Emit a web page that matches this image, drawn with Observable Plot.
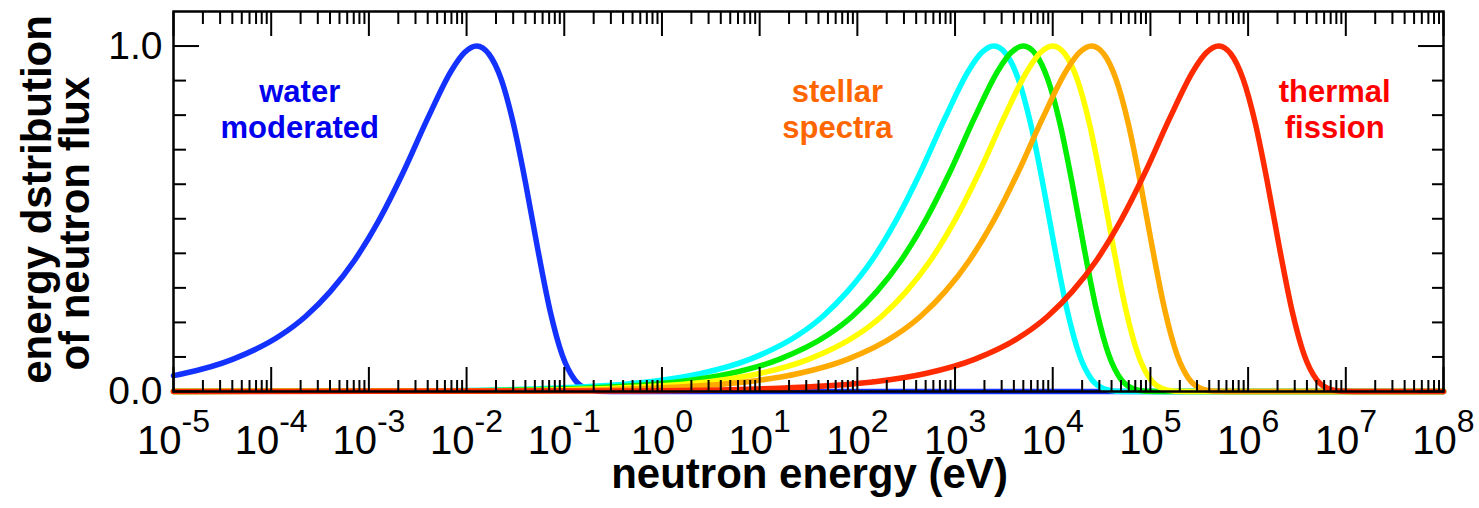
<!DOCTYPE html>
<html>
<head>
<meta charset="utf-8">
<script src="https://cdn.jsdelivr.net/npm/d3@7"></script>
<script src="https://cdn.jsdelivr.net/npm/@observablehq/plot@0.6"></script>
<style>
  html, body { margin: 0; padding: 0; background: #fff; }
  #chart svg { display: block; }
</style>
</head>
<body>
<div id="chart"></div>
<script>
// ---------- data ----------
// water moderated (thermal) spectrum
const waterE = [1e-5, 1.27e-5, 4.02e-5, 1.27e-4, 2.26e-4, 4.02e-4, 7.14e-4, 1.27e-3, 2.26e-3, 4.02e-3, 7.14e-3, 9.52e-3, 0.0127, 0.0169, 0.0226, 0.0301, 0.0402, 0.0536, 0.0714, 0.0952, 0.127, 0.169, 0.226, 0.402, 1e8];
const waterFlux = [0.046, 0.052, 0.093, 0.164, 0.218, 0.289, 0.380, 0.496, 0.636, 0.792, 0.933, 0.981, 1.000, 0.977, 0.904, 0.776, 0.603, 0.411, 0.235, 0.106, 0.035, 0.008, 0.001, 0, 0];

// stellar spectra
const stellar1E = [1e-5, 2.5e-3, 0.025, 0.079, 0.25, 0.79, 2.5, 7.9, 25, 44.5, 79, 141, 250, 445, 791, 1406, 1875, 2500, 3334, 4446, 5928, 7906, 10540, 14060, 18750, 25000, 33340, 44460, 79060, 1e8];
const stellar1Flux = [0.0001, 0.0017, 0.0052, 0.0093, 0.0165, 0.029, 0.052, 0.093, 0.164, 0.218, 0.289, 0.380, 0.496, 0.636, 0.792, 0.933, 0.981, 1.000, 0.977, 0.904, 0.776, 0.603, 0.411, 0.235, 0.106, 0.035, 0.008, 0.001, 0, 0];

const stellar2E = [1e-5, 5e-3, 0.05, 0.158, 0.5, 1.58, 5, 15.8, 50, 88.9, 158, 281, 500, 889, 1581, 2812, 3749, 5000, 6668, 8891, 11857, 15811, 21085, 28117, 37495, 50000, 66680, 88910, 158110, 1e8];
const stellar2Flux = [0.0001, 0.0017, 0.0052, 0.0093, 0.0165, 0.029, 0.052, 0.093, 0.164, 0.218, 0.289, 0.380, 0.496, 0.636, 0.792, 0.933, 0.981, 1.000, 0.977, 0.904, 0.776, 0.603, 0.411, 0.235, 0.106, 0.035, 0.008, 0.001, 0, 0];

const stellar3E = [1e-5, 0.01, 0.1, 0.316, 1, 3.16, 10, 31.6, 100, 178, 316, 562, 1000, 1778, 3162, 5623, 7499, 10000, 13335, 17783, 23714, 31623, 42170, 56234, 74989, 100000, 133350, 177830, 316230, 1e8];
const stellar3Flux = [0.0001, 0.0017, 0.0052, 0.0093, 0.0165, 0.029, 0.052, 0.093, 0.164, 0.218, 0.289, 0.380, 0.496, 0.636, 0.792, 0.933, 0.981, 1.000, 0.977, 0.904, 0.776, 0.603, 0.411, 0.235, 0.106, 0.035, 0.008, 0.001, 0, 0];

const stellar4E = [1e-5, 0.025, 0.25, 0.79, 2.5, 7.9, 25, 79, 250, 445, 791, 1406, 2500, 4446, 7906, 14058, 18747, 25000, 33338, 44457, 59285, 79057, 105425, 140585, 187473, 250000, 333375, 444575, 790570, 1e8];
const stellar4Flux = [0, 0.0017, 0.0052, 0.0093, 0.0165, 0.029, 0.052, 0.093, 0.164, 0.218, 0.289, 0.380, 0.496, 0.636, 0.792, 0.933, 0.981, 1.000, 0.977, 0.904, 0.776, 0.603, 0.411, 0.235, 0.106, 0.035, 0.008, 0.001, 0, 0];

// thermal fission spectrum
const fissionE = [1e-5, 0.5, 5, 15.8, 50, 158, 500, 1581, 5000, 8891, 15811, 28117, 50000, 88914, 158114, 281171, 374947, 500000, 666750, 889140, 1185700, 1581140, 2108500, 2811700, 3749450, 5000000, 6667500, 8891400, 15811000, 1e8];
const fissionFlux = [0, 0.0017, 0.0052, 0.0093, 0.0165, 0.029, 0.052, 0.093, 0.164, 0.218, 0.289, 0.380, 0.496, 0.636, 0.792, 0.933, 0.981, 1.000, 0.977, 0.904, 0.776, 0.603, 0.411, 0.235, 0.106, 0.035, 0.008, 0.001, 0, 0];

// axis ticks and labels
const xMajorTicks = [1e-5, 1e-4, 1e-3, 1e-2, 1e-1, 1e0, 1e1, 1e2, 1e3, 1e4, 1e5, 1e6, 1e7, 1e8];
const xTickExponents = ["-5", "-4", "-3", "-2", "-1", "0", "1", "2", "3", "4", "5", "6", "7", "8"];
const xMinorMultipliers = [2, 3, 4, 5, 6, 7, 8, 9];
const yMajorTicks = [0, 1];
const yTickLabels = ["0.0", "1.0"];
const yMinorTicks = [0.1, 0.2, 0.3, 0.4, 0.5, 0.6, 0.7, 0.8, 0.9];

// annotations (data coordinates)
const annoText = ["water\nmoderated", "stellar\nspectra", "thermal\nfission"];
const annoE = [1.96e-4, 62.5, 7.7e6];
const annoY = [0.82, 0.82, 0.82];

const xLabel = "neutron energy (eV)";
const yLabelLines = ["energy dstribution", "of neutron flux"];
const yLabelCenters = [0.556, 0.486];

// ---------- build tables ----------
const toRows = (E, F) => E.map((e, i) => ({E: e, flux: F[i]}));
const series = [
  {rows: toRows(waterE, waterFlux), color: "#1432ff"},
  {rows: toRows(stellar1E, stellar1Flux), color: "#00ffff"},
  {rows: toRows(stellar2E, stellar2Flux), color: "#00ee00"},
  {rows: toRows(stellar3E, stellar3Flux), color: "#ffff00"},
  {rows: toRows(stellar4E, stellar4Flux), color: "#ffaa00"},
  {rows: toRows(fissionE, fissionFlux), color: "#ff2a00"}
];
const xMinorTicks = xMajorTicks.slice(0, -1).flatMap(d => xMinorMultipliers.map(m => m * d));
const annotations = annoText.map((t, i) => ({text: t, E: annoE[i], y: annoY[i]}));
const annoColors = ["#0000ee", "#ff6600", "#ff0000"];
const yTitle = yLabelLines.map((t, i) => ({text: t, y: yLabelCenters[i]}));
const yTitleDx = [-136, -98];

const tickStroke = {stroke: "black", strokeWidth: 2, tickFormat: () => "", label: null};

const plot = Plot.plot({
  width: 1479,
  height: 508,
  marginLeft: 173,
  marginRight: 36,
  marginTop: 11,
  marginBottom: 117,
  style: {fontFamily: "'Liberation Sans', Arial, Helvetica, sans-serif", background: "white", overflow: "visible", color: "black"},
  x: {type: "log", domain: [1e-5, 1e8]},
  y: {domain: [0, 1.1]},
  marks: [
    ...series.map(s => Plot.line(s.rows, {x: "E", y: "flux", stroke: s.color, strokeWidth: 5.5, curve: "monotone-x"})),
    Plot.frame({stroke: "black", strokeWidth: 2.5}),
    // x ticks (inward) bottom & top
    Plot.axisX(xMajorTicks, {anchor: "bottom", tickSize: -24, ...tickStroke}),
    Plot.axisX(xMinorTicks, {anchor: "bottom", tickSize: -11, ...tickStroke}),
    Plot.axisX(xMajorTicks, {anchor: "top", tickSize: -24, ...tickStroke}),
    Plot.axisX(xMinorTicks, {anchor: "top", tickSize: -12, ...tickStroke}),
    // y ticks (inward) left & right
    Plot.axisY(yMajorTicks, {anchor: "left", tickSize: -26, ...tickStroke}),
    Plot.axisY(yMinorTicks, {anchor: "left", tickSize: -13, ...tickStroke}),
    Plot.axisY(yMajorTicks, {anchor: "right", tickSize: -26, ...tickStroke}),
    Plot.axisY(yMinorTicks, {anchor: "right", tickSize: -12, ...tickStroke}),
    // tick labels
    Plot.axisX(xMajorTicks, {anchor: "bottom", tickSize: 0, tickPadding: 34, fontSize: 40, label: null,
      tickFormat: d => xTickExponents[xMajorTicks.indexOf(d)]}),
    Plot.axisY(yMajorTicks, {anchor: "left", tickSize: 0, tickPadding: 11, fontSize: 39, label: null,
      tickFormat: d => yTickLabels[yMajorTicks.indexOf(d)]}),
    // annotations
    Plot.text(annotations, {x: "E", y: "y", text: "text", fill: (d, i) => annoColors[i], fontSize: 31, fontWeight: "bold", lineHeight: 1.18, lineAnchor: "middle"}),
    // axis titles
    Plot.text([xLabel], {text: d => d, frameAnchor: "bottom", dx: 1, dy: 83, fontSize: 42, fontWeight: "bold", lineAnchor: "middle"}),
    ...yTitle.map((d, i) => Plot.text([d], {y: "y", text: "text", frameAnchor: "left", textAnchor: "middle", rotate: -90, dx: yTitleDx[i], fontSize: 42, fontWeight: "bold", lineAnchor: "middle"}))
  ]
});

document.getElementById("chart").appendChild(plot);

// turn exponent labels into 10^n with a raised superscript
const svgns = "http://www.w3.org/2000/svg";
plot.querySelectorAll("text").forEach(t => {
  if (t.children.length) return;
  const exp = t.textContent.replace("\u2212", "-");
  if (!xTickExponents.includes(exp)) return;
  t.textContent = "10";
  t.setAttribute("font-size", "40");
  const ts = document.createElementNS(svgns, "tspan");
  ts.setAttribute("dy", "-22");
  ts.setAttribute("font-size", "32");
  ts.textContent = exp;
  t.appendChild(ts);
});
</script>
</body>
</html>
